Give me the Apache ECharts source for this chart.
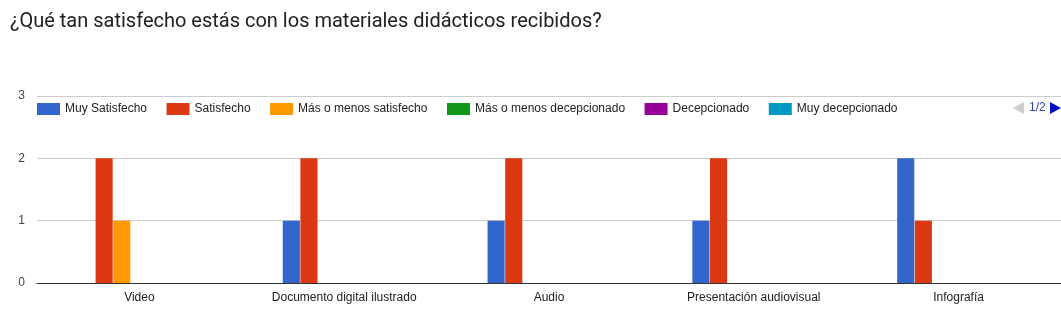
<!DOCTYPE html>
<html>
<head>
<meta charset="utf-8">
<script src="https://cdn.jsdelivr.net/npm/echarts@6/dist/echarts.min.js"></script>
<style>
html,body{margin:0;padding:0;background:#fff;}
#chart{width:1061px;height:328px;}
</style>
</head>
<body>
<div id="chart"></div>
<script>
const titleText = '¿Qué tan satisfecho estás con los materiales didácticos recibidos?';
const categories = ['Video', 'Documento digital ilustrado', 'Audio', 'Presentación audiovisual', 'Infografía'];
const seriesNames = ['Muy Satisfecho', 'Satisfecho', 'Más o menos satisfecho', 'Más o menos decepcionado', 'Decepcionado', 'Muy decepcionado', 'Otro'];
const muySatisfecho = [0, 1, 1, 1, 2];
const satisfecho = [2, 2, 2, 2, 1];
const masMenosSatisfecho = [1, 0, 0, 0, 0];
const masMenosDecepcionado = [0, 0, 0, 0, 0];
const decepcionado = [0, 0, 0, 0, 0];
const muyDecepcionado = [0, 0, 0, 0, 0];
const otro = [0, 0, 0, 0, 0];
const yTicks = [0, 1, 2, 3];
const colors = ['#3366cc', '#dc3912', '#ff9900', '#109618', '#990099', '#0099c6', '#dd4477'];
const pagerText = '1/2';

const values = [muySatisfecho, satisfecho, masMenosSatisfecho, masMenosDecepcionado, decepcionado, muyDecepcionado, otro];

const chart = echarts.init(document.getElementById('chart'));
chart.setOption({
  animation: false,
  color: colors,
  title: {
    text: titleText,
    left: 5,
    top: 7,
    textStyle: { fontFamily: 'Roboto', fontSize: 20, fontWeight: 'normal', color: '#202124' }
  },
  legend: {
    data: seriesNames.slice(0, 6),
    left: 32,
    top: 98,
    itemWidth: 23,
    itemHeight: 12,
    itemGap: 19.5,
    icon: 'rect',
    textStyle: { fontFamily: 'Liberation Sans, Arial', fontSize: 12, color: '#222' }
  },
  graphic: [
    { type: 'polygon', shape: { points: [[1013, 108], [1024, 102], [1024, 114]] }, style: { fill: '#cccccc' } },
    { type: 'text', left: 1029, top: 102, style: { text: pagerText, fontFamily: 'Liberation Sans, Arial', fontSize: 12, fill: '#3344aa' } },
    { type: 'polygon', shape: { points: [[1050, 102], [1061, 108], [1050, 114]] }, style: { fill: '#0011cc' } }
  ],
  grid: { left: 37, right: 0, top: 96, bottom: 45, containLabel: false },
  xAxis: {
    type: 'category',
    data: categories,
    axisTick: { show: false },
    axisLine: { lineStyle: { color: '#333', width: 1 } },
    axisLabel: { margin: 9, fontFamily: 'Liberation Sans, Arial', fontSize: 12, color: '#222' }
  },
  yAxis: {
    type: 'value',
    min: yTicks[0],
    max: yTicks[yTicks.length - 1],
    interval: 1,
    axisLine: { show: false },
    axisTick: { show: false },
    splitLine: { lineStyle: { color: '#cccccc' } },
    axisLabel: { margin: 12, fontFamily: 'Liberation Sans, Arial', fontSize: 12, color: '#444' }
  },
  series: seriesNames.map((n, i) => ({
    name: n,
    type: 'bar',
    data: values[i],
    barCategoryGap: '40%',
    barGap: '3%'
  }))
});
</script>
</body>
</html>
